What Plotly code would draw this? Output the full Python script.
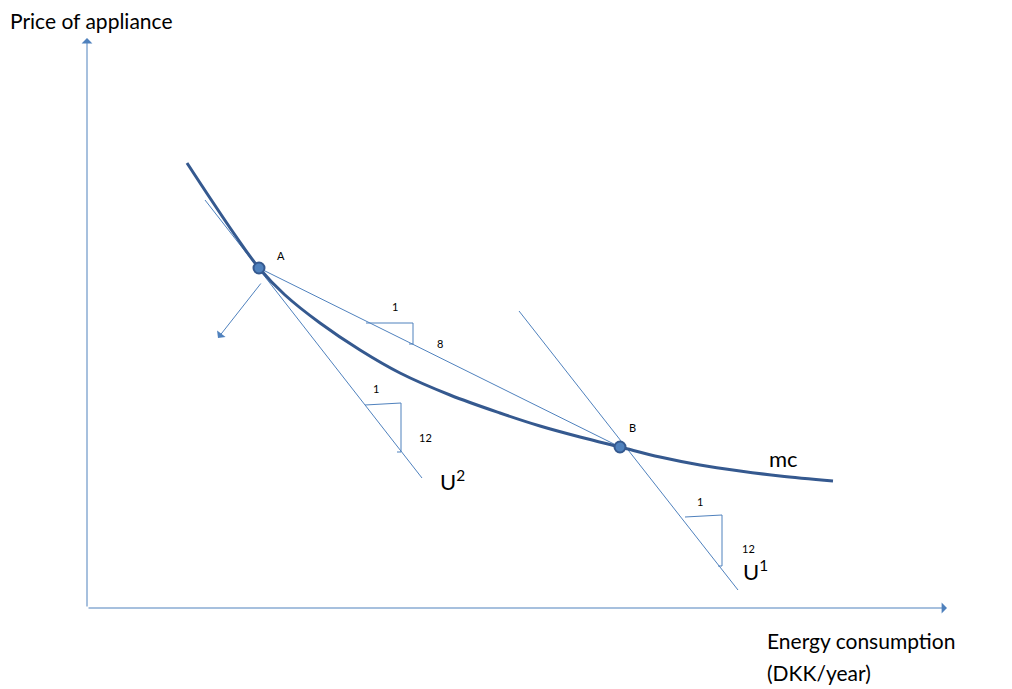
import plotly.graph_objects as go

# diagram drawn in picture coordinates (x right, y down)
MC_X = [187, 210, 235, 259, 285, 320, 360, 400, 450, 500, 540, 580, 620, 660, 700, 740, 780, 833]
MC_Y = [163, 198, 235, 268, 295, 323, 350, 373, 395, 413, 426, 437, 447, 457, 465, 471, 476, 481]

POINTS_X = [259, 620]
POINTS_Y = [268, 447]

TANGENT_U2_X = [205, 422]
TANGENT_U2_Y = [200, 478]
CHORD_X = [259, 620]
CHORD_Y = [268, 447]
TANGENT_U1_X = [519, 738]
TANGENT_U1_Y = [311, 590]

TRIANGLES = [
    ([366, 413, 413], [323, 323, 344]),
    ([365, 401, 401], [405, 403, 452]),
    ([685, 722, 722], [517, 515, 566]),
]

LINE = "#4F81BD"
CURVE = "#35598F"
PAD = 8  # page margin of the html body

fig = go.Figure()


def seg(xs, ys, color=LINE, width=1):
    fig.add_trace(go.Scatter(x=xs, y=ys, mode="lines", line=dict(color=color, width=width),
                             hoverinfo="skip", showlegend=False))


seg(TANGENT_U2_X, TANGENT_U2_Y)
seg(CHORD_X, CHORD_Y)
seg(TANGENT_U1_X, TANGENT_U1_Y)
for tx, ty in TRIANGLES:
    seg(tx, ty)
    seg([tx[2] - 4, tx[2]], [ty[2], ty[2]])
fig.add_trace(go.Scatter(x=MC_X, y=MC_Y, mode="lines", line=dict(color=CURVE, width=3, shape="spline"),
                         hoverinfo="skip", showlegend=False))
fig.add_trace(go.Scatter(x=POINTS_X, y=POINTS_Y, mode="markers",
                         marker=dict(color="#4F81BD", size=11, line=dict(color=CURVE, width=2)),
                         hoverinfo="skip", showlegend=False))

ann = []


def arrow(x0, y0, x1, y1):
    ann.append(dict(x=x1, y=y1, ax=x0, ay=y0, xref="x", yref="y", axref="x", ayref="y",
                    showarrow=True, arrowhead=1, arrowsize=1.8, arrowwidth=1, arrowcolor=LINE, text=""))


arrow(87, 608, 87, 38)
arrow(87, 608, 947, 608)
arrow(262, 282, 218, 338)


def label(x, y, text, size=11, xanchor="center"):
    ann.append(dict(x=x, y=y, xref="x", yref="y", text=text, showarrow=False, xanchor=xanchor,
                    font=dict(size=size, color="black")))


label(281, 255, "A")
label(632, 427, "B")
label(395, 306, "1")
label(440, 343, "8")
label(376, 388, "1")
label(425, 437, "12")
label(700, 501, "1")
label(748, 548, "12")
label(452, 480, "U<sup>2</sup>", size=22)
label(755, 570, "U<sup>1</sup>", size=22)
label(783, 458, "mc", size=22)
label(PAD, 20, "Price of appliance", size=21, xanchor="left")
label(765, 640, "Energy consumption", size=21, xanchor="left")
label(765, 672, "(DKK/year)", size=21, xanchor="left")

fig.update_layout(
    width=1012 - PAD, height=689 - PAD,
    margin=dict(l=0, r=0, t=0, b=0),
    paper_bgcolor="white", plot_bgcolor="white",
    font=dict(family="Lato"),
    xaxis=dict(range=[PAD, 1012], visible=False, fixedrange=True),
    yaxis=dict(range=[689, PAD], visible=False, fixedrange=True),
    annotations=ann,
)

fig.write_html("out.html")
